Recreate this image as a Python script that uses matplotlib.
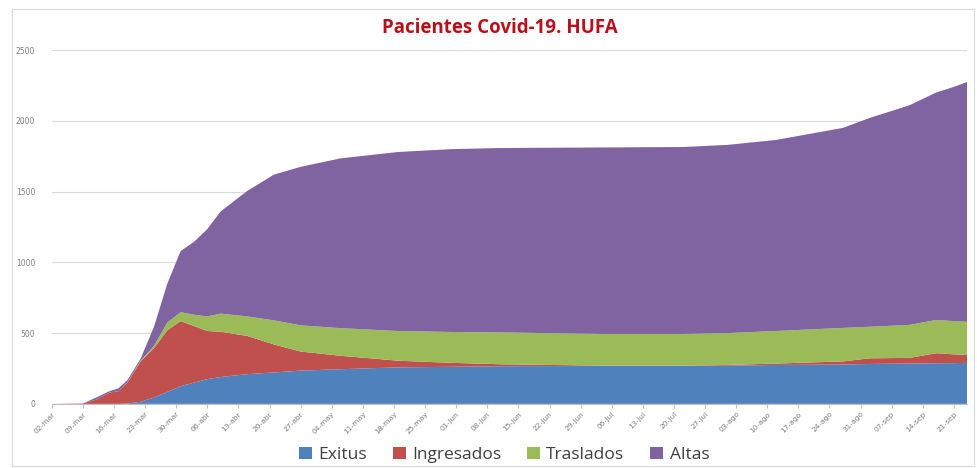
import matplotlib
matplotlib.use("Agg")
import matplotlib.pyplot as plt
from matplotlib.patches import Rectangle
import datetime as dt

# ---- data ----
start = dt.date(2020, 3, 2)
day_offsets = [0, 7, 10, 13, 15, 17, 20, 23, 26, 29, 32, 35, 38, 44, 50, 56, 65,
               78, 90, 101, 124, 142, 152, 163, 178, 184, 193, 199, 203, 206]
exitus = [0, 0, 0, 0, 0, 3, 15, 45, 85, 125, 150, 175, 190, 210, 222, 235, 245,
          258, 262, 266, 268, 268, 270, 275, 278, 282, 285, 287, 288, 290]
ingresados = [0, 3, 30, 80, 90, 147, 285, 350, 435, 460, 400, 340, 320, 270, 198, 135, 95,
              47, 28, 14, 2, 2, 5, 10, 22, 40, 40, 71, 62, 55]
traslados = [0, 0, 0, 0, 0, 2, 5, 15, 55, 63, 80, 103, 128, 138, 170, 185, 195,
             210, 218, 225, 224, 224, 225, 230, 237, 223, 233, 235, 235, 235]
altas = [0, 0, 15, 10, 20, 15, 15, 135, 275, 432, 515, 617, 722, 887, 1030, 1120, 1200,
         1265, 1292, 1303, 1318, 1321, 1330, 1350, 1413, 1475, 1552, 1607, 1655, 1695]
series_names = ["Exitus", "Ingresados", "Traslados", "Altas"]
tick_labels = ["02-mar", "09-mar", "16-mar", "23-mar", "30-mar", "06-abr", "13-abr",
               "20-abr", "27-abr", "04-may", "11-may", "18-may", "25-may", "01-jun",
               "08-jun", "15-jun", "22-jun", "29-jun", "06-jul", "13-jul", "20-jul",
               "27-jul", "03-ago", "10-ago", "17-ago", "24-ago", "31-ago", "07-sep",
               "14-sep", "21-sep"]
y_ticks = [0, 500, 1000, 1500, 2000, 2500]

colors = ["#4F81BD", "#C0504D", "#9BBB59", "#8064A2"]

dates = [start + dt.timedelta(days=d) for d in day_offsets]
tick_dates = [start + dt.timedelta(days=7 * i) for i in range(len(tick_labels))]

fig = plt.figure(figsize=(9.77, 4.68), dpi=100)
# outer chart border
fig.patches.append(Rectangle((0.012, 0.005), 0.985, 0.975, transform=fig.transFigure,
                             fill=False, edgecolor="#D9D9D9", linewidth=0.8))

ax = fig.add_axes([0.053, 0.137, 0.937, 0.756])
ax.stackplot(dates, exitus, ingresados, traslados, altas, colors=colors,
             labels=series_names, linewidth=0)

ax.set_ylim(0, 2500)
ax.set_xlim(dates[0], dates[-1])
ax.set_yticks(y_ticks)
ax.set_yticklabels([str(v) for v in y_ticks], fontsize=5.5, color="#7F7F7F")
ax.grid(axis="y", color="#D9D9D9", linewidth=0.8)
ax.set_axisbelow(True)

ax.set_xticks(tick_dates)
ax.set_xticklabels(tick_labels, rotation=45, ha="right", rotation_mode="anchor",
                   fontsize=5.4, color="#7F7F7F")
ax.tick_params(axis="y", length=0, pad=12)
ax.tick_params(axis="x", length=3, color="#BFBFBF", pad=2)

for s in ["top", "right", "left"]:
    ax.spines[s].set_visible(False)
ax.spines["bottom"].set_color("#BFBFBF")
ax.spines["bottom"].set_linewidth(0.8)

fig.text(0.512, 0.94, "Pacientes Covid-19. HUFA", ha="center", va="center",
         fontsize=13.5, fontweight="bold", color="#B8101A", family="Open Sans")

handles, labels = ax.get_legend_handles_labels()
leg = fig.legend(handles, labels, loc="center", bbox_to_anchor=(0.516, 0.028), ncol=4,
                 frameon=False, handlelength=0.75, handleheight=0.75,
                 columnspacing=1.5, handletextpad=0.35,
                 prop={"family": "Open Sans", "size": 12.5})
for t in leg.get_texts():
    t.set_color("#404040")

fig.savefig("out.png", dpi=100)
